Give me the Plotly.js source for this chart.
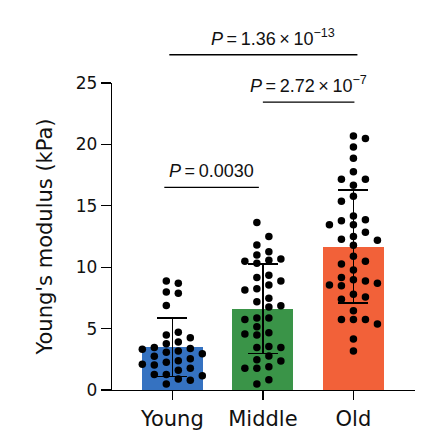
<!DOCTYPE html>
<html><head><meta charset="utf-8">
<script src="https://cdn.plot.ly/plotly-3.0.1.min.js"></script>
<style>html,body{margin:0;padding:0;background:#fff}#chart{width:426px;height:440px}</style>
</head><body><div id="chart"></div>
<script>
// ---------- data ----------
const categories = ['Young', 'Middle', 'Old'];
const barMeans = [3.48, 6.62, 11.67];
const barSDs = [2.37, 3.64, 4.60];
const youngValues = [8.88, 8.69, 7.87, 7.98, 6.89, 4.70, 4.48, 3.91, 3.77, 4.26, 3.18, 3.37, 2.96, 3.07, 3.47,
  3.31, 2.74, 2.55, 2.39, 2.25, 2.09, 2.04, 1.60, 1.77, 1.17, 1.27, 1.27, 0.79, 0.90, 0.49];
const middleValues = [13.65, 12.49, 11.81, 11.26, 10.99, 10.48, 10.67, 10.32, 10.56, 9.34, 9.17, 8.88, 8.55,
  8.14, 8.25, 7.47, 7.19, 6.87, 6.76, 5.86, 5.86, 5.75, 5.16, 4.48, 4.56, 4.67, 3.47, 3.55, 3.47, 2.77, 2.47,
  2.36, 1.77, 1.77, 1.90, 0.84, 0.49];
const oldValues = [20.68, 20.49, 19.79, 18.87, 17.78, 17.16, 17.16, 16.67, 15.77, 15.37, 13.87, 14.17, 13.79,
  13.46, 13.46, 12.84, 12.27, 12.49, 12.19, 11.78, 10.89, 10.26, 10.48, 9.77, 8.88, 8.98, 9.17, 8.49, 8.55,
  8.69, 7.79, 7.57, 7.38, 6.46, 5.75, 5.75, 5.75, 5.37, 4.15, 3.18];
const yTickValues = [0, 5, 10, 15, 20, 25];
const comparisonPairs = [[0, 1], [1, 2], [0, 2]];
const pValueLabels = ['<i>P</i>\u2009=\u20090.0030', '<i>P</i>\u2009=\u20092.72\u2009×\u200910<sup>−7</sup>', '<i>P</i>\u2009=\u20091.36\u2009×\u200910<sup>−13</sup>'];

// ---------- styling / layout constants ----------
const barColors = ['#3572C1', '#3A9448', '#F26139'];
const W = 426, H = 440;
const M = {l: 112, r: 11, t: 83, b: 50};
const xRange = [-0.666, 2.68];
const yRange = [0, 25];
const bracketLevels = [16.5, 23.45, 27.3];          // y units of the bracket lines
const bracketEndShiftPx = [[-8, -4], [0, 1], [-3, 4]]; // small px nudges of bracket ends
const labelShiftPx = [0, 0, 10];
const FONT = 'DejaVu Sans, sans-serif';
const PFONT = 'Liberation Sans, Arial, sans-serif';
const TXT = '#111';

const plotW = W - M.l - M.r, plotH = H - M.t - M.b;
const pxPerX = plotW / (xRange[1] - xRange[0]);
const pxPerY = plotH / (yRange[1] - yRange[0]);

// Prism-like column scatter: dots in columns, no overlap within a column
function swarmSlots(values, minGapPx) {
  function place(half) {
    const order = values.map((v, i) => i).sort((a, b) => values[b] - values[a]);
    const cols = new Map();
    const slots = new Array(values.length);
    let flip = false;
    for (const i of order) {
      const y = values[i] * pxPerY;
      let chosen = null;
      for (let k = 0; k < 40 && chosen === null; k++) {
        const mag = half ? k + 0.5 : k;
        let cands = mag === 0 ? [0] : [-mag, mag];
        cands.sort((a, b) => ((cols.get(a) || []).length - (cols.get(b) || []).length) || (flip ? b - a : a - b));
        for (const s of cands) {
          const list = cols.get(s) || [];
          if (list.every(yy => Math.abs(yy - y) >= minGapPx)) { chosen = s; break; }
        }
      }
      flip = !flip;
      if (!cols.has(chosen)) cols.set(chosen, []);
      cols.get(chosen).push(y);
      slots[i] = chosen;
    }
    return slots;
  }
  const a = place(false), b = place(true);
  const ma = Math.max(...a.map(Math.abs)), mb = Math.max(...b.map(Math.abs));
  return mb < ma ? b : a;
}

const colSpacingPx = 12;
const groups = [youngValues, middleValues, oldValues];
const dotTraces = groups.map((vals, gi) => {
  const slots = swarmSlots(vals, 8);
  return {
    type: 'scatter', mode: 'markers',
    x: slots.map(s => gi + s * colSpacingPx / pxPerX),
    y: vals,
    marker: {color: '#000', size: 7.5, line: {width: 0}},
    cliponaxis: false, hoverinfo: 'skip', showlegend: false
  };
});

const barTrace = {
  type: 'bar',
  x: categories.map((c, i) => i),
  y: barMeans,
  width: 61 / pxPerX,
  marker: {color: barColors, line: {width: 0}},
  error_y: {type: 'data', array: barSDs, visible: true, color: '#000', thickness: 1.5, width: 15},
  hoverinfo: 'skip', showlegend: false
};

const toPaperX = x => (x - xRange[0]) / (xRange[1] - xRange[0]);
const toPaperY = y => (y - yRange[0]) / (yRange[1] - yRange[0]);

const shapes = comparisonPairs.map((p, i) => ({
  type: 'line', xref: 'paper', yref: 'paper',
  x0: toPaperX(p[0] + bracketEndShiftPx[i][0] / pxPerX),
  x1: toPaperX(p[1] + bracketEndShiftPx[i][1] / pxPerX),
  y0: toPaperY(bracketLevels[i]), y1: toPaperY(bracketLevels[i]),
  line: {color: '#000', width: 1.3}
}));

const annotations = comparisonPairs.map((p, i) => ({
  xref: 'x', yref: 'paper',
  x: (p[0] + p[1]) / 2 + (bracketEndShiftPx[i][0] + bracketEndShiftPx[i][1]) / 2 / pxPerX,
  y: toPaperY(bracketLevels[i]),
  xanchor: 'center', yanchor: 'bottom', yshift: 4, xshift: labelShiftPx[i],
  text: pValueLabels[i], showarrow: false,
  font: {family: PFONT, size: 18, color: TXT}
}));

const layout = {
  width: W, height: H,
  margin: M,
  paper_bgcolor: '#fff', plot_bgcolor: '#fff',
  showlegend: false,
  xaxis: {
    range: xRange, showgrid: false, zeroline: false,
    showline: true, linecolor: '#000', linewidth: 1.3,
    tickmode: 'array', tickvals: categories.map((c, i) => i), ticktext: categories,
    ticks: 'outside', ticklen: 9, tickwidth: 1.3, tickcolor: '#000',
    tickfont: {family: FONT, size: 21, color: TXT},
    fixedrange: true
  },
  yaxis: {
    range: yRange, showgrid: false, zeroline: false,
    showline: true, linecolor: '#000', linewidth: 1.3,
    tickmode: 'array', tickvals: yTickValues, ticktext: yTickValues.map(String),
    ticks: 'outside', ticklen: 10, tickwidth: 1.3, tickcolor: '#000',
    tickfont: {family: FONT, size: 17, color: TXT},
    title: {text: "Young's modulus (kPa)", font: {family: FONT, size: 21, color: TXT}, standoff: 17},
    automargin: false,
    fixedrange: true
  },
  shapes: shapes,
  annotations: annotations,
  bargap: 0
};

Plotly.newPlot('chart', [barTrace, ...dotTraces], layout, {staticPlot: true, displayModeBar: false});
</script>
</body></html>
